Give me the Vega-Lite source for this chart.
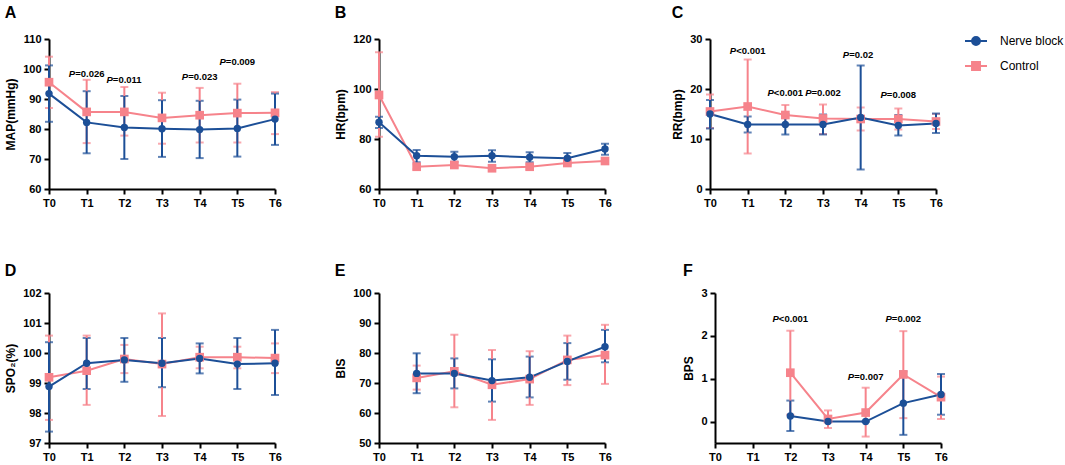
{
"$schema":"https://vega.github.io/schema/vega-lite/v6.json",
"background":"white",
"padding":{"left":4,"top":5,"right":0,"bottom":0},
"datasets":{
"d":[
{"p":"A","t":"T0","g":"Control","m":95.6,"lo":87.0,"hi":104.1},
{"p":"A","t":"T1","g":"Control","m":85.7,"lo":75.3,"hi":96.4},
{"p":"A","t":"T2","g":"Control","m":85.7,"lo":77.8,"hi":94.0},
{"p":"A","t":"T3","g":"Control","m":83.7,"lo":75.1,"hi":92.1},
{"p":"A","t":"T4","g":"Control","m":84.6,"lo":75.5,"hi":93.7},
{"p":"A","t":"T5","g":"Control","m":85.3,"lo":75.5,"hi":95.1},
{"p":"A","t":"T6","g":"Control","m":85.4,"lo":78.3,"hi":92.3},
{"p":"A","t":"T0","g":"Nerve block","m":91.8,"lo":82.4,"hi":101.2},
{"p":"A","t":"T1","g":"Nerve block","m":82.2,"lo":71.9,"hi":92.6},
{"p":"A","t":"T2","g":"Nerve block","m":80.5,"lo":70.0,"hi":91.0},
{"p":"A","t":"T3","g":"Nerve block","m":80.1,"lo":70.7,"hi":89.6},
{"p":"A","t":"T4","g":"Nerve block","m":79.8,"lo":70.3,"hi":89.4},
{"p":"A","t":"T5","g":"Nerve block","m":80.2,"lo":70.8,"hi":89.8},
{"p":"A","t":"T6","g":"Nerve block","m":83.3,"lo":74.7,"hi":91.8},
{"p":"B","t":"T0","g":"Control","m":97.6,"lo":80.9,"hi":114.7},
{"p":"B","t":"T1","g":"Control","m":68.9,"lo":67.9,"hi":69.9},
{"p":"B","t":"T2","g":"Control","m":69.6,"lo":68.6,"hi":70.6},
{"p":"B","t":"T3","g":"Control","m":68.3,"lo":67.3,"hi":69.3},
{"p":"B","t":"T4","g":"Control","m":68.9,"lo":67.9,"hi":69.9},
{"p":"B","t":"T5","g":"Control","m":70.4,"lo":69.4,"hi":71.4},
{"p":"B","t":"T6","g":"Control","m":71.2,"lo":70.2,"hi":72.2},
{"p":"B","t":"T0","g":"Nerve block","m":86.7,"lo":84.4,"hi":88.9},
{"p":"B","t":"T1","g":"Nerve block","m":73.3,"lo":70.7,"hi":75.6},
{"p":"B","t":"T2","g":"Nerve block","m":72.9,"lo":70.9,"hi":74.9},
{"p":"B","t":"T3","g":"Nerve block","m":73.3,"lo":70.9,"hi":75.5},
{"p":"B","t":"T4","g":"Nerve block","m":72.7,"lo":70.7,"hi":74.7},
{"p":"B","t":"T5","g":"Nerve block","m":72.3,"lo":70.1,"hi":74.4},
{"p":"B","t":"T6","g":"Nerve block","m":76.0,"lo":73.7,"hi":78.1},
{"p":"C","t":"T0","g":"Control","m":15.5,"lo":12.2,"hi":18.9},
{"p":"C","t":"T1","g":"Control","m":16.5,"lo":7.1,"hi":25.9},
{"p":"C","t":"T2","g":"Control","m":14.8,"lo":12.8,"hi":16.8},
{"p":"C","t":"T3","g":"Control","m":14.1,"lo":11.0,"hi":16.9},
{"p":"C","t":"T4","g":"Control","m":14.0,"lo":11.7,"hi":16.3},
{"p":"C","t":"T5","g":"Control","m":14.0,"lo":11.9,"hi":16.1},
{"p":"C","t":"T6","g":"Control","m":13.5,"lo":12.0,"hi":15.0},
{"p":"C","t":"T0","g":"Nerve block","m":15.0,"lo":12.1,"hi":17.8},
{"p":"C","t":"T1","g":"Nerve block","m":12.9,"lo":11.3,"hi":14.5},
{"p":"C","t":"T2","g":"Nerve block","m":12.9,"lo":10.9,"hi":15.0},
{"p":"C","t":"T3","g":"Nerve block","m":12.9,"lo":10.9,"hi":14.9},
{"p":"C","t":"T4","g":"Nerve block","m":14.3,"lo":3.9,"hi":24.7},
{"p":"C","t":"T5","g":"Nerve block","m":12.7,"lo":10.7,"hi":14.8},
{"p":"C","t":"T6","g":"Nerve block","m":13.1,"lo":11.2,"hi":15.1},
{"p":"D","t":"T0","g":"Control","m":99.19,"lo":97.77,"hi":100.58},
{"p":"D","t":"T1","g":"Control","m":99.41,"lo":98.27,"hi":100.58},
{"p":"D","t":"T2","g":"Control","m":99.8,"lo":99.33,"hi":100.27},
{"p":"D","t":"T3","g":"Control","m":99.63,"lo":97.9,"hi":101.32},
{"p":"D","t":"T4","g":"Control","m":99.86,"lo":99.49,"hi":100.21},
{"p":"D","t":"T5","g":"Control","m":99.86,"lo":99.49,"hi":100.21},
{"p":"D","t":"T6","g":"Control","m":99.83,"lo":99.33,"hi":100.32},
{"p":"D","t":"T0","g":"Nerve block","m":98.88,"lo":97.38,"hi":100.36},
{"p":"D","t":"T1","g":"Nerve block","m":99.66,"lo":98.8,"hi":100.5},
{"p":"D","t":"T2","g":"Nerve block","m":99.77,"lo":99.04,"hi":100.5},
{"p":"D","t":"T3","g":"Nerve block","m":99.66,"lo":98.86,"hi":100.5},
{"p":"D","t":"T4","g":"Nerve block","m":99.82,"lo":99.32,"hi":100.32},
{"p":"D","t":"T5","g":"Nerve block","m":99.63,"lo":98.8,"hi":100.5},
{"p":"D","t":"T6","g":"Nerve block","m":99.66,"lo":98.6,"hi":100.77},
{"p":"E","t":"T1","g":"Control","m":71.7,"lo":67.8,"hi":75.8},
{"p":"E","t":"T2","g":"Control","m":73.9,"lo":61.9,"hi":86.1},
{"p":"E","t":"T3","g":"Control","m":69.4,"lo":57.7,"hi":81.0},
{"p":"E","t":"T4","g":"Control","m":71.3,"lo":62.7,"hi":80.6},
{"p":"E","t":"T5","g":"Control","m":77.7,"lo":69.3,"hi":85.8},
{"p":"E","t":"T6","g":"Control","m":79.3,"lo":69.7,"hi":89.4},
{"p":"E","t":"T1","g":"Nerve block","m":73.2,"lo":66.6,"hi":79.9},
{"p":"E","t":"T2","g":"Nerve block","m":73.2,"lo":68.2,"hi":78.2},
{"p":"E","t":"T3","g":"Nerve block","m":70.8,"lo":63.8,"hi":77.9},
{"p":"E","t":"T4","g":"Nerve block","m":71.9,"lo":65.2,"hi":78.8},
{"p":"E","t":"T5","g":"Nerve block","m":77.2,"lo":71.1,"hi":83.3},
{"p":"E","t":"T6","g":"Nerve block","m":82.1,"lo":76.9,"hi":87.7},
{"p":"F","t":"T2","g":"Control","m":1.14,"lo":0.16,"hi":2.12},
{"p":"F","t":"T3","g":"Control","m":0.06,"lo":-0.15,"hi":0.26},
{"p":"F","t":"T4","g":"Control","m":0.21,"lo":-0.35,"hi":0.79},
{"p":"F","t":"T5","g":"Control","m":1.10,"lo":0.08,"hi":2.11},
{"p":"F","t":"T6","g":"Control","m":0.57,"lo":0.06,"hi":1.05},
{"p":"F","t":"T2","g":"Nerve block","m":0.13,"lo":-0.22,"hi":0.49},
{"p":"F","t":"T3","g":"Nerve block","m":0,"lo":0,"hi":0},
{"p":"F","t":"T4","g":"Nerve block","m":0,"lo":0,"hi":0},
{"p":"F","t":"T5","g":"Nerve block","m":0.43,"lo":-0.31,"hi":1.17},
{"p":"F","t":"T6","g":"Nerve block","m":0.63,"lo":0.16,"hi":1.11}
],
"p":[
{"p":"A","t":"T1","m":98.2,"s":"=0.026"},
{"p":"A","t":"T2","m":96.4,"s":"=0.011"},
{"p":"A","t":"T4","m":97.2,"s":"=0.023"},
{"p":"A","t":"T5","m":102.3,"s":"=0.009"},
{"p":"C","t":"T1","m":27.7,"s":"<0.001"},
{"p":"C","t":"T2","m":19.3,"s":"<0.001"},
{"p":"C","t":"T3","m":19.2,"s":"=0.002"},
{"p":"C","t":"T4","m":26.9,"s":"=0.02"},
{"p":"C","t":"T5","m":18.8,"s":"=0.008"},
{"p":"F","t":"T2","m":2.39,"s":"<0.001"},
{"p":"F","t":"T4","m":1.05,"s":"=0.007"},
{"p":"F","t":"T5","m":2.39,"s":"=0.002"}
]
},
"spacing":55,
"vconcat":[
{"spacing":52,"hconcat":[
{"width":226,"height":150,"title":{"text":"A","offset":12},
"encoding":{"x":{"field":"t","type":"ordinal","scale":{"type":"point","domain":["T0","T1","T2","T3","T4","T5","T6"],"padding":0},"axis":{"title":null,"labelAngle":0}}},
"layer":[
{"data":{"name":"d"},"transform":[{"filter":"datum.p=='A'"}],"mark":{"type":"errorbar","thickness":2,"ticks":{"size":8}},"encoding":{"y":{"field":"lo","type":"quantitative","title":"MAP(mmHg)","scale":{"domain":[60,110],"nice":false,"zero":false},"axis":{"values":[60,70,80,90,100,110]}},"y2":{"field":"hi"},
"color":{"field":"g","type":"nominal","scale":{"domain":["Nerve block","Control"],"range":["#1c4f97","#f6838b"]},"legend":{"orient":"none","legendX":915,"legendY":-10,"title":null,"symbolSize":484,"rowPadding":5,"labelFontSize":12,"labelFontWeight":"normal","labelColor":"#000","labelOffset":12,"padding":0,"symbolStrokeWidth":2,
"encode":{"symbols":{"update":{"shape":{"signal":"datum.value==='Control' ? 'M-1,0L1,0M-0.36,-0.36L0.36,-0.36L0.36,0.36L-0.36,0.36Z' : 'M-1,0L1,0M0.36,0A0.36,0.36,0,1,1,-0.36,0A0.36,0.36,0,1,1,0.36,0Z'"},"fill":{"signal":"datum.value==='Control' ? '#f6838b' : '#1c4f97'"},"stroke":{"signal":"datum.value==='Control' ? '#f6838b' : '#1c4f97'"},"strokeWidth":{"value":2},"size":{"value":484},"opacity":{"value":1}}}}}}}},
{"data":{"name":"d"},"transform":[{"filter":"datum.p=='A'"}],"mark":{"type":"line","strokeWidth":2},"encoding":{"y":{"field":"m","type":"quantitative","title":"MAP(mmHg)","axis":{"values":[60,70,80,90,100,110]}},"color":{"field":"g","type":"nominal"}}},
{"data":{"name":"d"},"transform":[{"filter":"datum.p=='A' && datum.g=='Control'"}],"mark":{"type":"point","filled":true,"opacity":1,"shape":"square","size":75},"encoding":{"y":{"field":"m","type":"quantitative","title":"MAP(mmHg)","axis":{"values":[60,70,80,90,100,110]}},"color":{"field":"g","type":"nominal"}}},
{"data":{"name":"d"},"transform":[{"filter":"datum.p=='A' && datum.g=='Nerve block'"}],"mark":{"type":"point","filled":true,"opacity":1,"shape":"circle","size":55},"encoding":{"y":{"field":"m","type":"quantitative","title":"MAP(mmHg)","axis":{"values":[60,70,80,90,100,110]}},"color":{"field":"g","type":"nominal"}}},
{"data":{"name":"p"},"transform":[{"filter":"datum.p=='A'"}],"mark":{"type":"text","text":"P","fontStyle":"italic","fontWeight":"bold","fontSize":9.5,"align":"right","dx":-11.5,"baseline":"middle","color":"#000"},"encoding":{"y":{"field":"m","type":"quantitative","title":"MAP(mmHg)","axis":{"values":[60,70,80,90,100,110]}}}},
{"data":{"name":"p"},"transform":[{"filter":"datum.p=='A'"}],"mark":{"type":"text","fontWeight":"bold","fontSize":9.5,"align":"left","dx":-11.5,"baseline":"middle","color":"#000"},"encoding":{"y":{"field":"m","type":"quantitative","title":"MAP(mmHg)","axis":{"values":[60,70,80,90,100,110]}},"text":{"field":"s"}}}
]},
{"spacing":59,"hconcat":[
{"width":226,"height":150,"title":{"text":"B","offset":12},
"encoding":{"x":{"field":"t","type":"ordinal","scale":{"type":"point","domain":["T0","T1","T2","T3","T4","T5","T6"],"padding":0},"axis":{"title":null,"labelAngle":0}}},
"layer":[
{"data":{"name":"d"},"transform":[{"filter":"datum.p=='B'"}],"mark":{"type":"errorbar","thickness":2,"ticks":{"size":8}},"encoding":{"y":{"field":"lo","type":"quantitative","title":"HR(bpm)","scale":{"domain":[60,120],"nice":false,"zero":false},"axis":{"values":[60,80,100,120]}},"y2":{"field":"hi"},"color":{"field":"g","type":"nominal"}}},
{"data":{"name":"d"},"transform":[{"filter":"datum.p=='B'"}],"mark":{"type":"line","strokeWidth":2},"encoding":{"y":{"field":"m","type":"quantitative","title":"HR(bpm)","axis":{"values":[60,80,100,120]}},"color":{"field":"g","type":"nominal"}}},
{"data":{"name":"d"},"transform":[{"filter":"datum.p=='B' && datum.g=='Control'"}],"mark":{"type":"point","filled":true,"opacity":1,"shape":"square","size":75},"encoding":{"y":{"field":"m","type":"quantitative","title":"HR(bpm)","axis":{"values":[60,80,100,120]}},"color":{"field":"g","type":"nominal"}}},
{"data":{"name":"d"},"transform":[{"filter":"datum.p=='B' && datum.g=='Nerve block'"}],"mark":{"type":"point","filled":true,"opacity":1,"shape":"circle","size":55},"encoding":{"y":{"field":"m","type":"quantitative","title":"HR(bpm)","axis":{"values":[60,80,100,120]}},"color":{"field":"g","type":"nominal"}}}
]},
{"width":226,"height":150,"title":{"text":"C","offset":12},
"encoding":{"x":{"field":"t","type":"ordinal","scale":{"type":"point","domain":["T0","T1","T2","T3","T4","T5","T6"],"padding":0},"axis":{"title":null,"labelAngle":0}}},
"layer":[
{"data":{"name":"d"},"transform":[{"filter":"datum.p=='C'"}],"mark":{"type":"errorbar","thickness":2,"ticks":{"size":8}},"encoding":{"y":{"field":"lo","type":"quantitative","title":"RR(bmp)","scale":{"domain":[0,30],"nice":false},"axis":{"values":[0,10,20,30]}},"y2":{"field":"hi"},"color":{"field":"g","type":"nominal"}}},
{"data":{"name":"d"},"transform":[{"filter":"datum.p=='C'"}],"mark":{"type":"line","strokeWidth":2},"encoding":{"y":{"field":"m","type":"quantitative","title":"RR(bmp)","axis":{"values":[0,10,20,30]}},"color":{"field":"g","type":"nominal"}}},
{"data":{"name":"d"},"transform":[{"filter":"datum.p=='C' && datum.g=='Control'"}],"mark":{"type":"point","filled":true,"opacity":1,"shape":"square","size":75},"encoding":{"y":{"field":"m","type":"quantitative","title":"RR(bmp)","axis":{"values":[0,10,20,30]}},"color":{"field":"g","type":"nominal"}}},
{"data":{"name":"d"},"transform":[{"filter":"datum.p=='C' && datum.g=='Nerve block'"}],"mark":{"type":"point","filled":true,"opacity":1,"shape":"circle","size":55},"encoding":{"y":{"field":"m","type":"quantitative","title":"RR(bmp)","axis":{"values":[0,10,20,30]}},"color":{"field":"g","type":"nominal"}}},
{"data":{"name":"p"},"transform":[{"filter":"datum.p=='C'"}],"mark":{"type":"text","text":"P","fontStyle":"italic","fontWeight":"bold","fontSize":9.5,"align":"right","dx":-11.5,"baseline":"middle","color":"#000"},"encoding":{"y":{"field":"m","type":"quantitative","title":"RR(bmp)","axis":{"values":[0,10,20,30]}}}},
{"data":{"name":"p"},"transform":[{"filter":"datum.p=='C'"}],"mark":{"type":"text","fontWeight":"bold","fontSize":9.5,"align":"left","dx":-11.5,"baseline":"middle","color":"#000"},"encoding":{"y":{"field":"m","type":"quantitative","title":"RR(bmp)","axis":{"values":[0,10,20,30]}},"text":{"field":"s"}}}
]}
]}
]},
{"spacing":52,"hconcat":[
{"width":226,"height":150,"title":{"text":"D","offset":8},
"encoding":{"x":{"field":"t","type":"ordinal","scale":{"type":"point","domain":["T0","T1","T2","T3","T4","T5","T6"],"padding":0},"axis":{"title":null,"labelAngle":0}}},
"layer":[
{"data":{"name":"d"},"transform":[{"filter":"datum.p=='D'"}],"mark":{"type":"errorbar","thickness":2,"ticks":{"size":8}},"encoding":{"y":{"field":"lo","type":"quantitative","title":"SPO₂(%)","scale":{"domain":[97,102],"nice":false,"zero":false},"axis":{"values":[97,98,99,100,101,102]}},"y2":{"field":"hi"},"color":{"field":"g","type":"nominal"}}},
{"data":{"name":"d"},"transform":[{"filter":"datum.p=='D'"}],"mark":{"type":"line","strokeWidth":2},"encoding":{"y":{"field":"m","type":"quantitative","title":"SPO₂(%)","axis":{"values":[97,98,99,100,101,102]}},"color":{"field":"g","type":"nominal"}}},
{"data":{"name":"d"},"transform":[{"filter":"datum.p=='D' && datum.g=='Control'"}],"mark":{"type":"point","filled":true,"opacity":1,"shape":"square","size":75},"encoding":{"y":{"field":"m","type":"quantitative","title":"SPO₂(%)","axis":{"values":[97,98,99,100,101,102]}},"color":{"field":"g","type":"nominal"}}},
{"data":{"name":"d"},"transform":[{"filter":"datum.p=='D' && datum.g=='Nerve block'"}],"mark":{"type":"point","filled":true,"opacity":1,"shape":"circle","size":55},"encoding":{"y":{"field":"m","type":"quantitative","title":"SPO₂(%)","axis":{"values":[97,98,99,100,101,102]}},"color":{"field":"g","type":"nominal"}}}
]},
{"spacing":70,"hconcat":[
{"width":226,"height":150,"title":{"text":"E","offset":8},
"encoding":{"x":{"field":"t","type":"ordinal","scale":{"type":"point","domain":["T0","T1","T2","T3","T4","T5","T6"],"padding":0},"axis":{"title":null,"labelAngle":0}}},
"layer":[
{"data":{"name":"d"},"transform":[{"filter":"datum.p=='E'"}],"mark":{"type":"errorbar","thickness":2,"ticks":{"size":8}},"encoding":{"y":{"field":"lo","type":"quantitative","title":"BIS","scale":{"domain":[50,100],"nice":false,"zero":false},"axis":{"values":[50,60,70,80,90,100]}},"y2":{"field":"hi"},"color":{"field":"g","type":"nominal"}}},
{"data":{"name":"d"},"transform":[{"filter":"datum.p=='E'"}],"mark":{"type":"line","strokeWidth":2},"encoding":{"y":{"field":"m","type":"quantitative","title":"BIS","axis":{"values":[50,60,70,80,90,100]}},"color":{"field":"g","type":"nominal"}}},
{"data":{"name":"d"},"transform":[{"filter":"datum.p=='E' && datum.g=='Control'"}],"mark":{"type":"point","filled":true,"opacity":1,"shape":"square","size":75},"encoding":{"y":{"field":"m","type":"quantitative","title":"BIS","axis":{"values":[50,60,70,80,90,100]}},"color":{"field":"g","type":"nominal"}}},
{"data":{"name":"d"},"transform":[{"filter":"datum.p=='E' && datum.g=='Nerve block'"}],"mark":{"type":"point","filled":true,"opacity":1,"shape":"circle","size":55},"encoding":{"y":{"field":"m","type":"quantitative","title":"BIS","axis":{"values":[50,60,70,80,90,100]}},"color":{"field":"g","type":"nominal"}}}
]},
{"width":226,"height":150,"title":{"text":"F","offset":8},
"encoding":{"x":{"field":"t","type":"ordinal","scale":{"type":"point","domain":["T0","T1","T2","T3","T4","T5","T6"],"padding":0},"axis":{"title":null,"labelAngle":0}}},
"layer":[
{"data":{"name":"d"},"transform":[{"filter":"datum.p=='F'"}],"mark":{"type":"errorbar","thickness":2,"ticks":{"size":8}},"encoding":{"y":{"field":"lo","type":"quantitative","title":"BPS","scale":{"domain":[-0.5,3],"nice":false,"zero":false},"axis":{"values":[0,1,2,3]}},"y2":{"field":"hi"},"color":{"field":"g","type":"nominal"}}},
{"data":{"name":"d"},"transform":[{"filter":"datum.p=='F'"}],"mark":{"type":"line","strokeWidth":2},"encoding":{"y":{"field":"m","type":"quantitative","title":"BPS","axis":{"values":[0,1,2,3]}},"color":{"field":"g","type":"nominal"}}},
{"data":{"name":"d"},"transform":[{"filter":"datum.p=='F' && datum.g=='Control'"}],"mark":{"type":"point","filled":true,"opacity":1,"shape":"square","size":75},"encoding":{"y":{"field":"m","type":"quantitative","title":"BPS","axis":{"values":[0,1,2,3]}},"color":{"field":"g","type":"nominal"}}},
{"data":{"name":"d"},"transform":[{"filter":"datum.p=='F' && datum.g=='Nerve block'"}],"mark":{"type":"point","filled":true,"opacity":1,"shape":"circle","size":55},"encoding":{"y":{"field":"m","type":"quantitative","title":"BPS","axis":{"values":[0,1,2,3]}},"color":{"field":"g","type":"nominal"}}},
{"data":{"name":"p"},"transform":[{"filter":"datum.p=='F'"}],"mark":{"type":"text","text":"P","fontStyle":"italic","fontWeight":"bold","fontSize":9.5,"align":"right","dx":-11.5,"baseline":"middle","color":"#000"},"encoding":{"y":{"field":"m","type":"quantitative","title":"BPS","axis":{"values":[0,1,2,3]}}}},
{"data":{"name":"p"},"transform":[{"filter":"datum.p=='F'"}],"mark":{"type":"text","fontWeight":"bold","fontSize":9.5,"align":"left","dx":-11.5,"baseline":"middle","color":"#000"},"encoding":{"y":{"field":"m","type":"quantitative","title":"BPS","axis":{"values":[0,1,2,3]}},"text":{"field":"s"}}}
]}
]}
]}
],
"config":{
"font":"Liberation Sans",
"view":{"stroke":null},
"axis":{"grid":false,"labelOverlap":false,"domainColor":"#000","domainWidth":2,"tickColor":"#000","tickWidth":2,"tickSize":5,"labelColor":"#000","labelFont":"Liberation Sans","labelFontWeight":"bold","labelFontSize":11,"labelPadding":3,"titleColor":"#000","titleFont":"Liberation Sans","titleFontSize":12,"titleFontWeight":"bold","titlePadding":5},
"title":{"font":"Liberation Sans","color":"#000","fontSize":16,"fontWeight":"bold","anchor":"start","frame":"bounds"},
"legend":{"labelFont":"Liberation Sans"}
}
}
